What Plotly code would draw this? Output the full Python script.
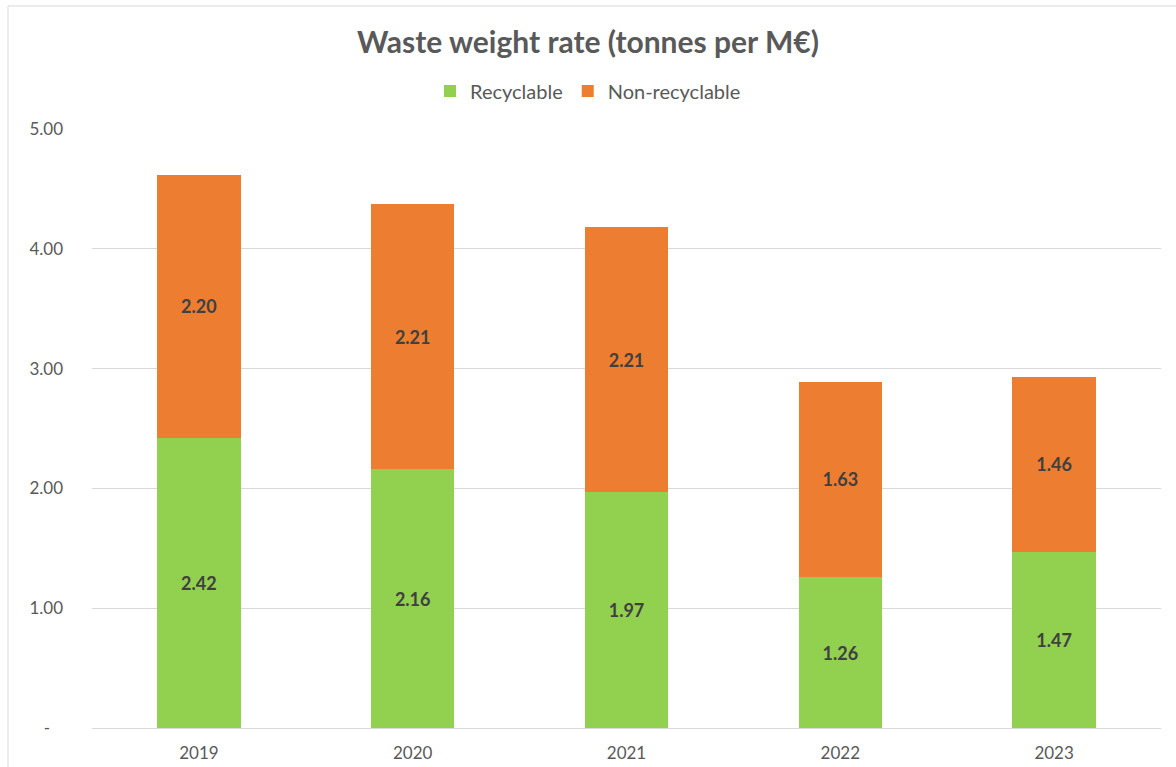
import plotly.graph_objects as go

years = ["2019", "2020", "2021", "2022", "2023"]
recyclable = [2.42, 2.16, 1.97, 1.26, 1.47]
non_recyclable = [2.20, 2.21, 2.21, 1.63, 1.46]
ytick_vals = [0, 1, 2, 3, 4, 5]
ytick_text = ["-   ", "1.00", "2.00", "3.00", "4.00", "5.00"]

W, H = 1176, 767
L, R, T, B = 92, 15, 129, 39
PW, PH = W - L - R, H - T - B

FONT = "Lato"
label_font = dict(family=FONT, size=18, color="#404040", weight="bold")

fig = go.Figure()
fig.add_trace(go.Bar(
    x=years, y=recyclable, name="Recyclable",
    marker=dict(color="#92d050", line=dict(width=0)),
    texttemplate="<b>%{y:.2f}</b>", textposition="inside",
    insidetextanchor="middle", textangle=0, textfont=label_font,
))
fig.add_trace(go.Bar(
    x=years, y=non_recyclable, name="Non-recyclable",
    marker=dict(color="#ed7d31", line=dict(width=0)),
    texttemplate="<b>%{y:.2f}</b>", textposition="inside",
    insidetextanchor="middle", textangle=0, textfont=label_font,
))

def px_x(px):
    return (px - L) / PW

def px_y(py):
    return (H - B - py) / PH

fig.update_layout(
    width=W, height=H,
    barmode="stack", bargap=0.61,
    paper_bgcolor="white", plot_bgcolor="white",
    margin=dict(l=L, r=R, t=T, b=B, autoexpand=False),
    font=dict(family=FONT, color="#595959", size=16),
    title=dict(text="<b>Waste weight rate (tonnes per M€)</b>",
               x=0.5, xref="container", xanchor="center",
               y=1 - 42 / H, yanchor="middle",
               font=dict(family=FONT, size=30, color="#595959")),
    legend=dict(orientation="h", x=0.5, xref="container", xanchor="center",
                y=1 - 91 / H, yref="container", yanchor="middle",
                font=dict(family=FONT, size=20, color="#595959"),
                itemwidth=30, traceorder="normal"),
    xaxis=dict(showgrid=False, showline=True, linecolor="#d9d9d9", linewidth=1,
               ticks="", tickfont=dict(family=FONT, size=17, color="#595959"),
               ticklabelstandoff=10, automargin=False),
    yaxis=dict(range=[0, 5], tickvals=ytick_vals, ticktext=ytick_text,
               showgrid=True, gridcolor="#d9d9d9", gridwidth=1,
               zeroline=False, showline=False, ticks="",
               tickfont=dict(family=FONT, size=17, color="#595959"),
               ticklabelstandoff=28, automargin=False),
    shapes=[
        dict(type="line", xref="paper", yref="paper",
             x0=px_x(8), x1=px_x(8), y0=px_y(6), y1=px_y(800),
             line=dict(color="#d9d9d9", width=1)),
        dict(type="line", xref="paper", yref="paper",
             x0=px_x(8), x1=px_x(1200), y0=px_y(6), y1=px_y(6),
             line=dict(color="#d9d9d9", width=1)),
    ],
)

fig.write_html("out.html")
